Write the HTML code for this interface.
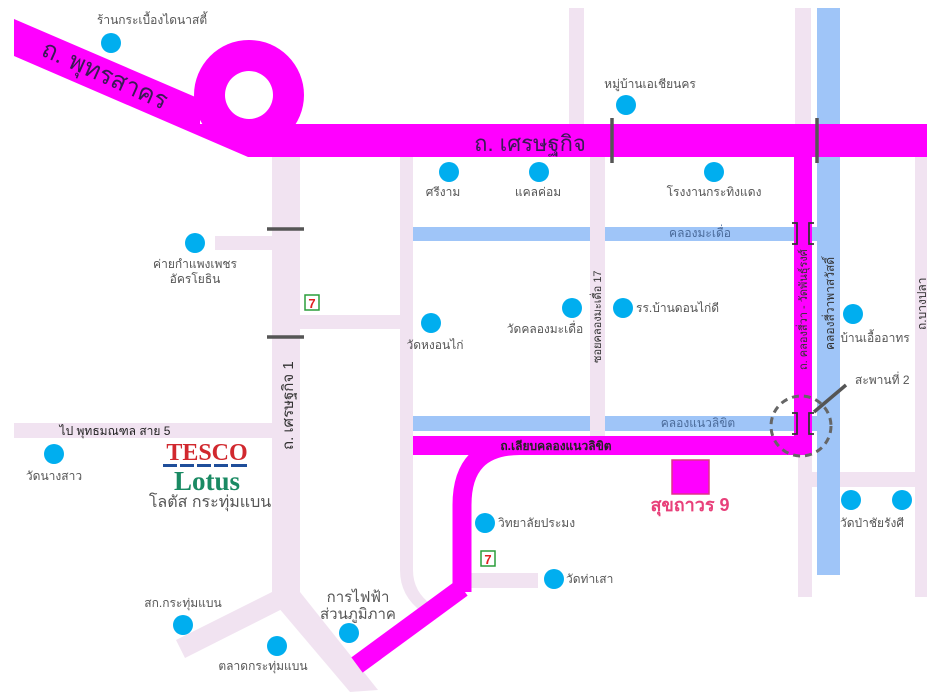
<!DOCTYPE html>
<html><head><meta charset="utf-8"><style>
html,body{margin:0;padding:0;background:#fff;}
svg{display:block;font-family:"Liberation Sans","Noto Sans CJK SC",sans-serif;}
.l{font-size:12px;fill:#555;}
</style></head><body>
<svg width="927" height="697" viewBox="0 0 927 697" xmlns="http://www.w3.org/2000/svg">
<!-- lavender roads -->
<g fill="#f1e3f1">
<rect x="272" y="150" width="28" height="450"/>
<polygon points="272,592 300,592 300,600 185,658 176,640 272,592"/>
<polygon points="285,592 300,592 378,690 350,692 272,600"/>
<rect x="215" y="236" width="60" height="14"/>
<rect x="298" y="315" width="105" height="14"/>
<rect x="14" y="423" width="260" height="15"/>
<path d="M400,150 H413 V570 Q413,592 432,605 L422,612 Q400,596 400,570 Z"/>
<rect x="569" y="8" width="15" height="120"/>
<rect x="590" y="150" width="15" height="290"/>
<rect x="795" y="8" width="16" height="120"/>
<rect x="798" y="450" width="14" height="147"/>
<rect x="915" y="150" width="12" height="447"/>
<rect x="810" y="472" width="108" height="15"/>
<rect x="470" y="573" width="68" height="15"/>
</g>
<!-- canals -->
<g fill="#9fc5f8">
<rect x="817" y="8" width="23" height="567"/>
<rect x="413" y="227" width="177" height="14"/>
<rect x="605" y="227" width="189" height="14"/>
<rect x="413" y="416" width="177" height="15"/>
<rect x="605" y="416" width="189" height="15"/>
<rect x="812" y="227" width="6" height="14"/>
<rect x="812" y="416" width="6" height="15"/>
</g>
<!-- magenta roads -->
<g fill="#ff00ff">
<polygon points="14,19 200,99 200,124 927,124 927,157 248,157 14,56"/>
<circle cx="249" cy="95" r="55"/>
<rect x="794" y="150" width="18" height="305"/>
<rect x="413" y="436" width="399" height="19"/>
<rect x="672" y="460" width="37" height="34" stroke="#e0308a" stroke-width="1.5"/>
</g>
<circle cx="249" cy="95" r="24" fill="#fff"/>
<path d="M462,592 V505 Q462,445.5 520,445.5 H560" fill="none" stroke="#ff00ff" stroke-width="19"/>
<line x1="462" y1="588" x2="357" y2="665" stroke="#ff00ff" stroke-width="19"/>
<!-- gray bars -->
<g stroke="#555" stroke-width="3.5">
<line x1="267" y1="229" x2="304" y2="229"/>
<line x1="267" y1="337" x2="304" y2="337"/>
<line x1="612" y1="118" x2="612" y2="163"/>
<line x1="817" y1="118" x2="817" y2="163"/>
<line x1="814" y1="412" x2="846" y2="385"/>
</g>
<g fill="none" stroke="#333" stroke-width="1.8">
<path d="M792,223 H797 V244 H792"/><path d="M814,223 H809 V244 H814"/>
<path d="M792,413 H797 V434 H792"/><path d="M814,413 H809 V434 H814"/>
</g>
<circle cx="801" cy="426" r="30" fill="none" stroke="#666" stroke-width="3" stroke-dasharray="7,5"/>
<!-- dots -->
<g fill="#00aeef">
<circle cx="111" cy="43" r="10"/><circle cx="626" cy="105" r="10"/>
<circle cx="449" cy="172" r="10"/><circle cx="539" cy="172" r="10"/>
<circle cx="714" cy="172" r="10"/><circle cx="195" cy="243" r="10"/>
<circle cx="431" cy="323" r="10"/><circle cx="572" cy="308" r="10"/>
<circle cx="623" cy="308" r="10"/><circle cx="853" cy="314" r="10"/>
<circle cx="54" cy="454" r="10"/><circle cx="851" cy="500" r="10"/>
<circle cx="902" cy="500" r="10"/><circle cx="485" cy="523" r="10"/>
<circle cx="554" cy="579" r="10"/><circle cx="183" cy="625" r="10"/>
<circle cx="277" cy="646" r="10"/><circle cx="349" cy="633" r="10"/>
</g>
<!-- 7-11 -->
<rect x="305" y="295" width="14" height="15" fill="#fff" stroke="#2a9d3a" stroke-width="1.5"/>
<text x="312" y="308" font-size="13" font-weight="bold" fill="#e02020" text-anchor="middle">7</text>
<rect x="481" y="551" width="14" height="15" fill="#fff" stroke="#2a9d3a" stroke-width="1.5"/>
<text x="488" y="564" font-size="13" font-weight="bold" fill="#e02020" text-anchor="middle">7</text>
<!-- labels -->
<g class="l" text-anchor="middle">
<text x="152" y="24">ร้านกระเบื้องไดนาสตี้</text>
<text x="650" y="88">หมู่บ้านเอเชียนคร</text>
<text x="443" y="196">ศรีงาม</text>
<text x="538" y="196">แคลค่อม</text>
<text x="714" y="196">โรงงานกระทิงแดง</text>
<text x="195" y="268">ค่ายกำแพงเพชร</text>
<text x="195" y="283">อัครโยธิน</text>
<text x="435" y="349">วัดหงอนไก่</text>
<text x="545" y="333">วัดคลองมะเดื่อ</text>
<text x="875" y="342">บ้านเอื้ออาทร</text>
<text x="54" y="480">วัดนางสาว</text>
<text x="872" y="527">วัดป่าชัยรังศี</text>
<text x="183" y="607">สก.กระทุ่มแบน</text>
<text x="263" y="670">ตลาดกระทุ่มแบน</text>
<text x="358" y="602" font-size="15">การไฟฟ้า</text>
<text x="358" y="619" font-size="15">ส่วนภูมิภาค</text>
<text x="700" y="237" fill="#4a6a99">คลองมะเดื่อ</text>
<text x="698" y="427" fill="#4a6a99">คลองแนวลิขิต</text>
</g>
<g class="l">
<text x="636" y="312">รร.บ้านดอนไก่ดี</text>
<text x="498" y="527">วิทยาลัยประมง</text>
<text x="566" y="583">วัดท่าเสา</text>
<text x="855" y="384">สะพานที่ 2</text>
</g>
<text x="115" y="435" font-size="12" fill="#222" text-anchor="middle">ไป พุทธมณฑล สาย 5</text>
<text x="556" y="450" font-size="12" fill="#222" font-weight="bold" text-anchor="middle">ถ.เลียบคลองแนวลิขิต</text>
<text x="530" y="151" font-size="22" fill="#3a1a55" text-anchor="middle">ถ. เศรษฐกิจ</text>
<text transform="translate(40,55) rotate(24)" font-size="25" fill="#3a1a55">ถ. พุทรสาคร</text>
<text transform="translate(293,450) rotate(-90)" font-size="15" fill="#333">ถ. เศรษฐกิจ 1</text>
<text transform="translate(601,363) rotate(-90)" font-size="11" fill="#333">ซอยคลองมะเดื่อ 17</text>
<text transform="translate(807,370) rotate(-90)" font-size="11" fill="#333">ถ. คลองสี่วา - วัดพันธุ์รงศ์</text>
<text transform="translate(834,350) rotate(-90)" font-size="12" fill="#333">คลองสี่วาพาสวัสดิ์</text>
<text transform="translate(926,330) rotate(-90)" font-size="12" fill="#333">ถ.บางปลา</text>
<text x="690" y="511" font-size="18" font-weight="bold" fill="#e8407a" text-anchor="middle">สุขถาวร 9</text>
<!-- Tesco -->
<text x="207" y="460" font-family="Liberation Serif,serif" font-size="24" font-weight="bold" fill="#d1282e" text-anchor="middle">TESCO</text>
<g fill="#1f4e9a"><rect x="163" y="464" width="14" height="3"/><rect x="180" y="464" width="14" height="3"/><rect x="197" y="464" width="14" height="3"/><rect x="214" y="464" width="14" height="3"/><rect x="231" y="464" width="16" height="3"/></g>
<text x="207" y="490" font-family="Liberation Serif,serif" font-size="27" font-weight="bold" fill="#1a8a63" text-anchor="middle">Lotus</text>
<text x="210" y="507" font-size="16" fill="#555" text-anchor="middle">โลตัส กระทุ่มแบน</text>
</svg>
</body></html>
